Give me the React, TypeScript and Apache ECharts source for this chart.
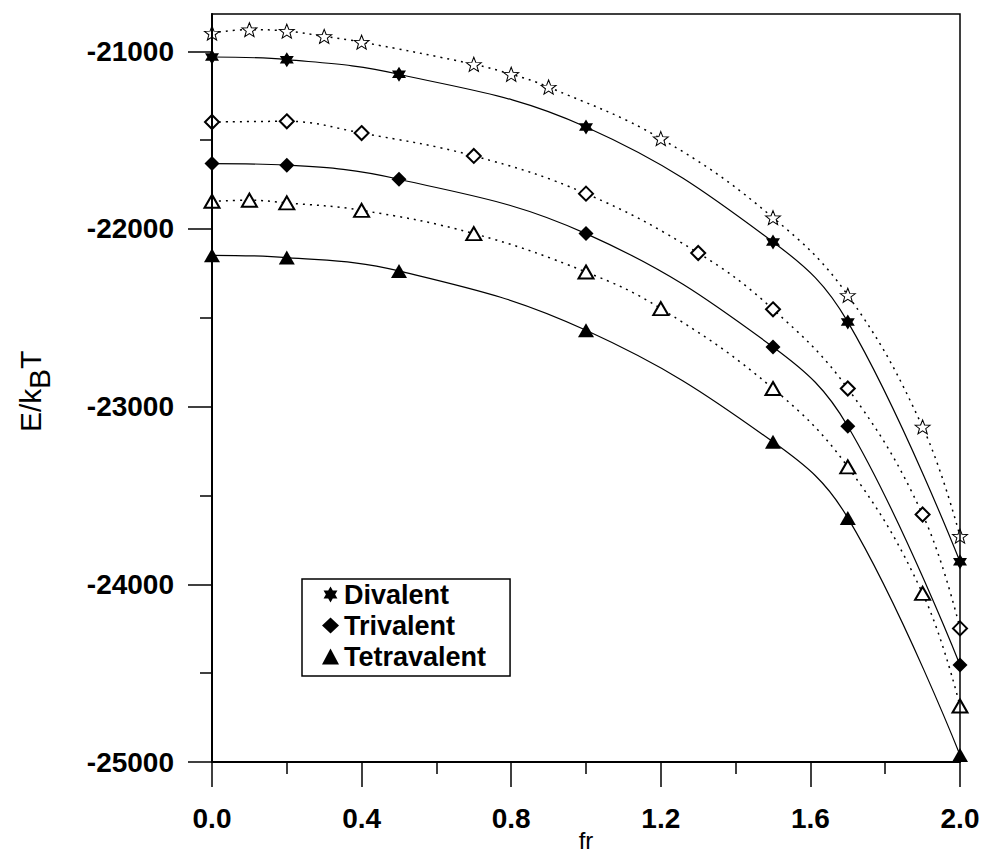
import React, { useEffect, useRef } from "react";
import * as echarts from "echarts";

// ---- data ----
const X_FILLED = [0, 0.2, 0.5, 1.0, 1.5, 1.7, 2.0];
const Y_DIVALENT = [-21032, -21047, -21129, -21426, -22073, -22523, -23873];
const Y_TRIVALENT = [-21632, -21641, -21720, -22026, -22664, -23110, -24454];
const Y_TETRAVALENT = [-22148, -22161, -22236, -22570, -23198, -23626, -24961];

const X_DIV_OPEN = [0, 0.1, 0.2, 0.3, 0.4, 0.7, 0.8, 0.9, 1.2, 1.5, 1.7, 1.9, 2.0];
const Y_DIV_OPEN = [-20897, -20878, -20886, -20916, -20948, -21073, -21129, -21201, -21491, -21936, -22373, -23114, -23729];

const X_TRI_OPEN = [0, 0.2, 0.4, 0.7, 1.0, 1.3, 1.5, 1.7, 1.9, 2.0];
const Y_TRI_OPEN = [-21398, -21394, -21460, -21589, -21801, -22135, -22452, -22898, -23607, -24248];

const X_TET_OPEN = [0, 0.1, 0.2, 0.4, 0.7, 1.0, 1.2, 1.5, 1.7, 1.9, 2.0];
const Y_TET_OPEN = [-21844, -21838, -21853, -21895, -22026, -22242, -22448, -22898, -23339, -24051, -24685];

const Y_MAJOR_TICKS = [-25000, -24000, -23000, -22000, -21000];
const Y_MINOR_TICKS = [-24500, -23500, -22500, -21500];
const LEGEND_NAMES = ["Divalent", "Trivalent", "Tetravalent"];
const X_TITLE = "fr";

const FONT = "'Liberation Sans', Arial, Helvetica, sans-serif";
const HEXAGRAM = "path://M0,-10L8.66,5L-8.66,5Z M0,10L-8.66,-5L8.66,-5Z";
const STAR5 =
  "path://M0,-10L2.5,-3.4L9.51,-3.09L4.0,1.3L5.88,8.09L0,4.2L-5.88,8.09L-4.0,1.3L-9.51,-3.09L-2.5,-3.4Z";

const zip = (xs: number[], ys: number[]) => xs.map((x, i) => [x, ys[i]]);

export default function App() {
  const ref = useRef<HTMLDivElement>(null);

  useEffect(() => {
    if (!ref.current) return;
    const chart = echarts.init(ref.current, undefined, { renderer: "svg" });

    const tickStyle = { color: "#000", width: 1.5 };
    const axisStyle = { color: "#000", width: 2 };
    const gridPos = { left: 212, right: 21, top: 14, bottom: 95, outerBoundsMode: "none", containLabel: false };

    const filled = (name: string, xs: number[], ys: number[], symbol: string, size: any) => ({
      name,
      type: "line",
      xAxisIndex: 0,
      yAxisIndex: 0,
      data: zip(xs, ys),
      smooth: 0.4,
      symbol,
      symbolSize: size,
      clip: false,
      silent: true,
      z: 3,
      itemStyle: { color: "#000" },
      lineStyle: { color: "#000", width: 1.2, type: "solid" },
      emphasis: { disabled: true },
    });

    const open = (name: string, xs: number[], ys: number[], symbol: string, size: any, bw: number) => ({
      name,
      type: "line",
      xAxisIndex: 0,
      yAxisIndex: 0,
      data: zip(xs, ys),
      smooth: 0.4,
      symbol,
      symbolSize: size,
      clip: false,
      silent: true,
      z: 3,
      itemStyle: { color: "#fff", borderColor: "#000", borderWidth: bw },
      lineStyle: { color: "#000", width: 1.5, type: [2, 5] },
      emphasis: { disabled: true },
    });

    const option: any = {
      animation: false,
      backgroundColor: "#fff",
      textStyle: { fontFamily: FONT },
      grid: [
        { ...gridPos, show: true, borderColor: "#000", borderWidth: 1.5, backgroundColor: "transparent", z: 5 },
        { ...gridPos, show: false },
      ],
      xAxis: [
        {
          type: "value",
          gridIndex: 0,
          min: 0,
          max: 2,
          interval: 0.4,
          z: 5,
          axisLine: { show: true, lineStyle: axisStyle },
          axisTick: { show: true, inside: false, length: 25, lineStyle: tickStyle },
          minorTick: { show: true, splitNumber: 2, length: 12, lineStyle: tickStyle },
          splitLine: { show: false },
          minorSplitLine: { show: false },
          axisLabel: {
            fontSize: 28,
            fontWeight: "bold",
            color: "#000",
            fontFamily: FONT,
            margin: 42,
            formatter: (v: number) => v.toFixed(1),
          },
        },
        { type: "value", gridIndex: 1, min: 0, max: 2, show: false },
      ],
      yAxis: [
        {
          type: "value",
          gridIndex: 0,
          min: -25000,
          max: -20790,
          z: 5,
          axisLine: { show: true, lineStyle: axisStyle },
          axisTick: { show: true, inside: false, length: 24, lineStyle: tickStyle, customValues: Y_MAJOR_TICKS },
          splitLine: { show: false },
          axisLabel: {
            customValues: Y_MAJOR_TICKS,
            fontSize: 28,
            fontWeight: "bold",
            color: "#000",
            fontFamily: FONT,
            margin: 38,
            formatter: (v: number) => String(v),
          },
        },
        {
          type: "value",
          gridIndex: 1,
          min: -25000,
          max: -20790,
          position: "left",
          axisLine: { show: false },
          axisTick: { show: true, inside: false, length: 12, lineStyle: tickStyle, customValues: Y_MINOR_TICKS },
          axisLabel: { show: false },
          splitLine: { show: false },
        },
      ],
      legend: {
        left: 302,
        top: 579,
        orient: "vertical",
        selectedMode: false,
        data: [
          { name: LEGEND_NAMES[0], icon: HEXAGRAM },
          { name: LEGEND_NAMES[1], icon: "diamond" },
          { name: LEGEND_NAMES[2], icon: "triangle" },
        ],
        itemWidth: 17,
        itemHeight: 16,
        itemGap: 0,
        padding: [0, 24, 4, 20],
        borderColor: "#000",
        borderWidth: 1.5,
        backgroundColor: "#fff",
        z: 10,
        textStyle: { fontSize: 27, fontWeight: "bold", color: "#000", fontFamily: FONT, lineHeight: 31 },
      },
      graphic: [
        {
          type: "text",
          x: 586,
          y: 840,
          style: { text: X_TITLE, font: `24px ${FONT}`, fill: "#000", align: "center", verticalAlign: "middle" },
        },
        {
          type: "group",
          x: 30,
          y: 432,
          rotation: Math.PI / 2,
          children: [
            { type: "text", x: 0, y: 0, style: { text: "E/k", font: `30px ${FONT}`, fill: "#000", verticalAlign: "middle", align: "left" } },
            { type: "text", x: 43, y: 9, style: { text: "B", font: `30px ${FONT}`, fill: "#000", verticalAlign: "middle", align: "left" } },
            { type: "text", x: 63, y: 0, style: { text: "T", font: `30px ${FONT}`, fill: "#000", verticalAlign: "middle", align: "left" } },
          ],
        },
      ],
      series: [
        open("Divalent (open)", X_DIV_OPEN, Y_DIV_OPEN, STAR5, [15, 14], 1),
        open("Trivalent (open)", X_TRI_OPEN, Y_TRI_OPEN, "diamond", [14, 14], 2),
        open("Tetravalent (open)", X_TET_OPEN, Y_TET_OPEN, "triangle", [15, 13], 2),
        filled(LEGEND_NAMES[0], X_FILLED, Y_DIVALENT, HEXAGRAM, [14, 15]),
        filled(LEGEND_NAMES[1], X_FILLED, Y_TRIVALENT, "diamond", [15, 15]),
        filled(LEGEND_NAMES[2], X_FILLED, Y_TETRAVALENT, "triangle", [16, 14]),
      ],
    };

    chart.setOption(option);
    return () => chart.dispose();
  }, []);

  return (
    <div
      ref={ref}
      style={{ position: "absolute", left: 0, top: 0, width: 981, height: 857, background: "#fff" }}
    />
  );
}
